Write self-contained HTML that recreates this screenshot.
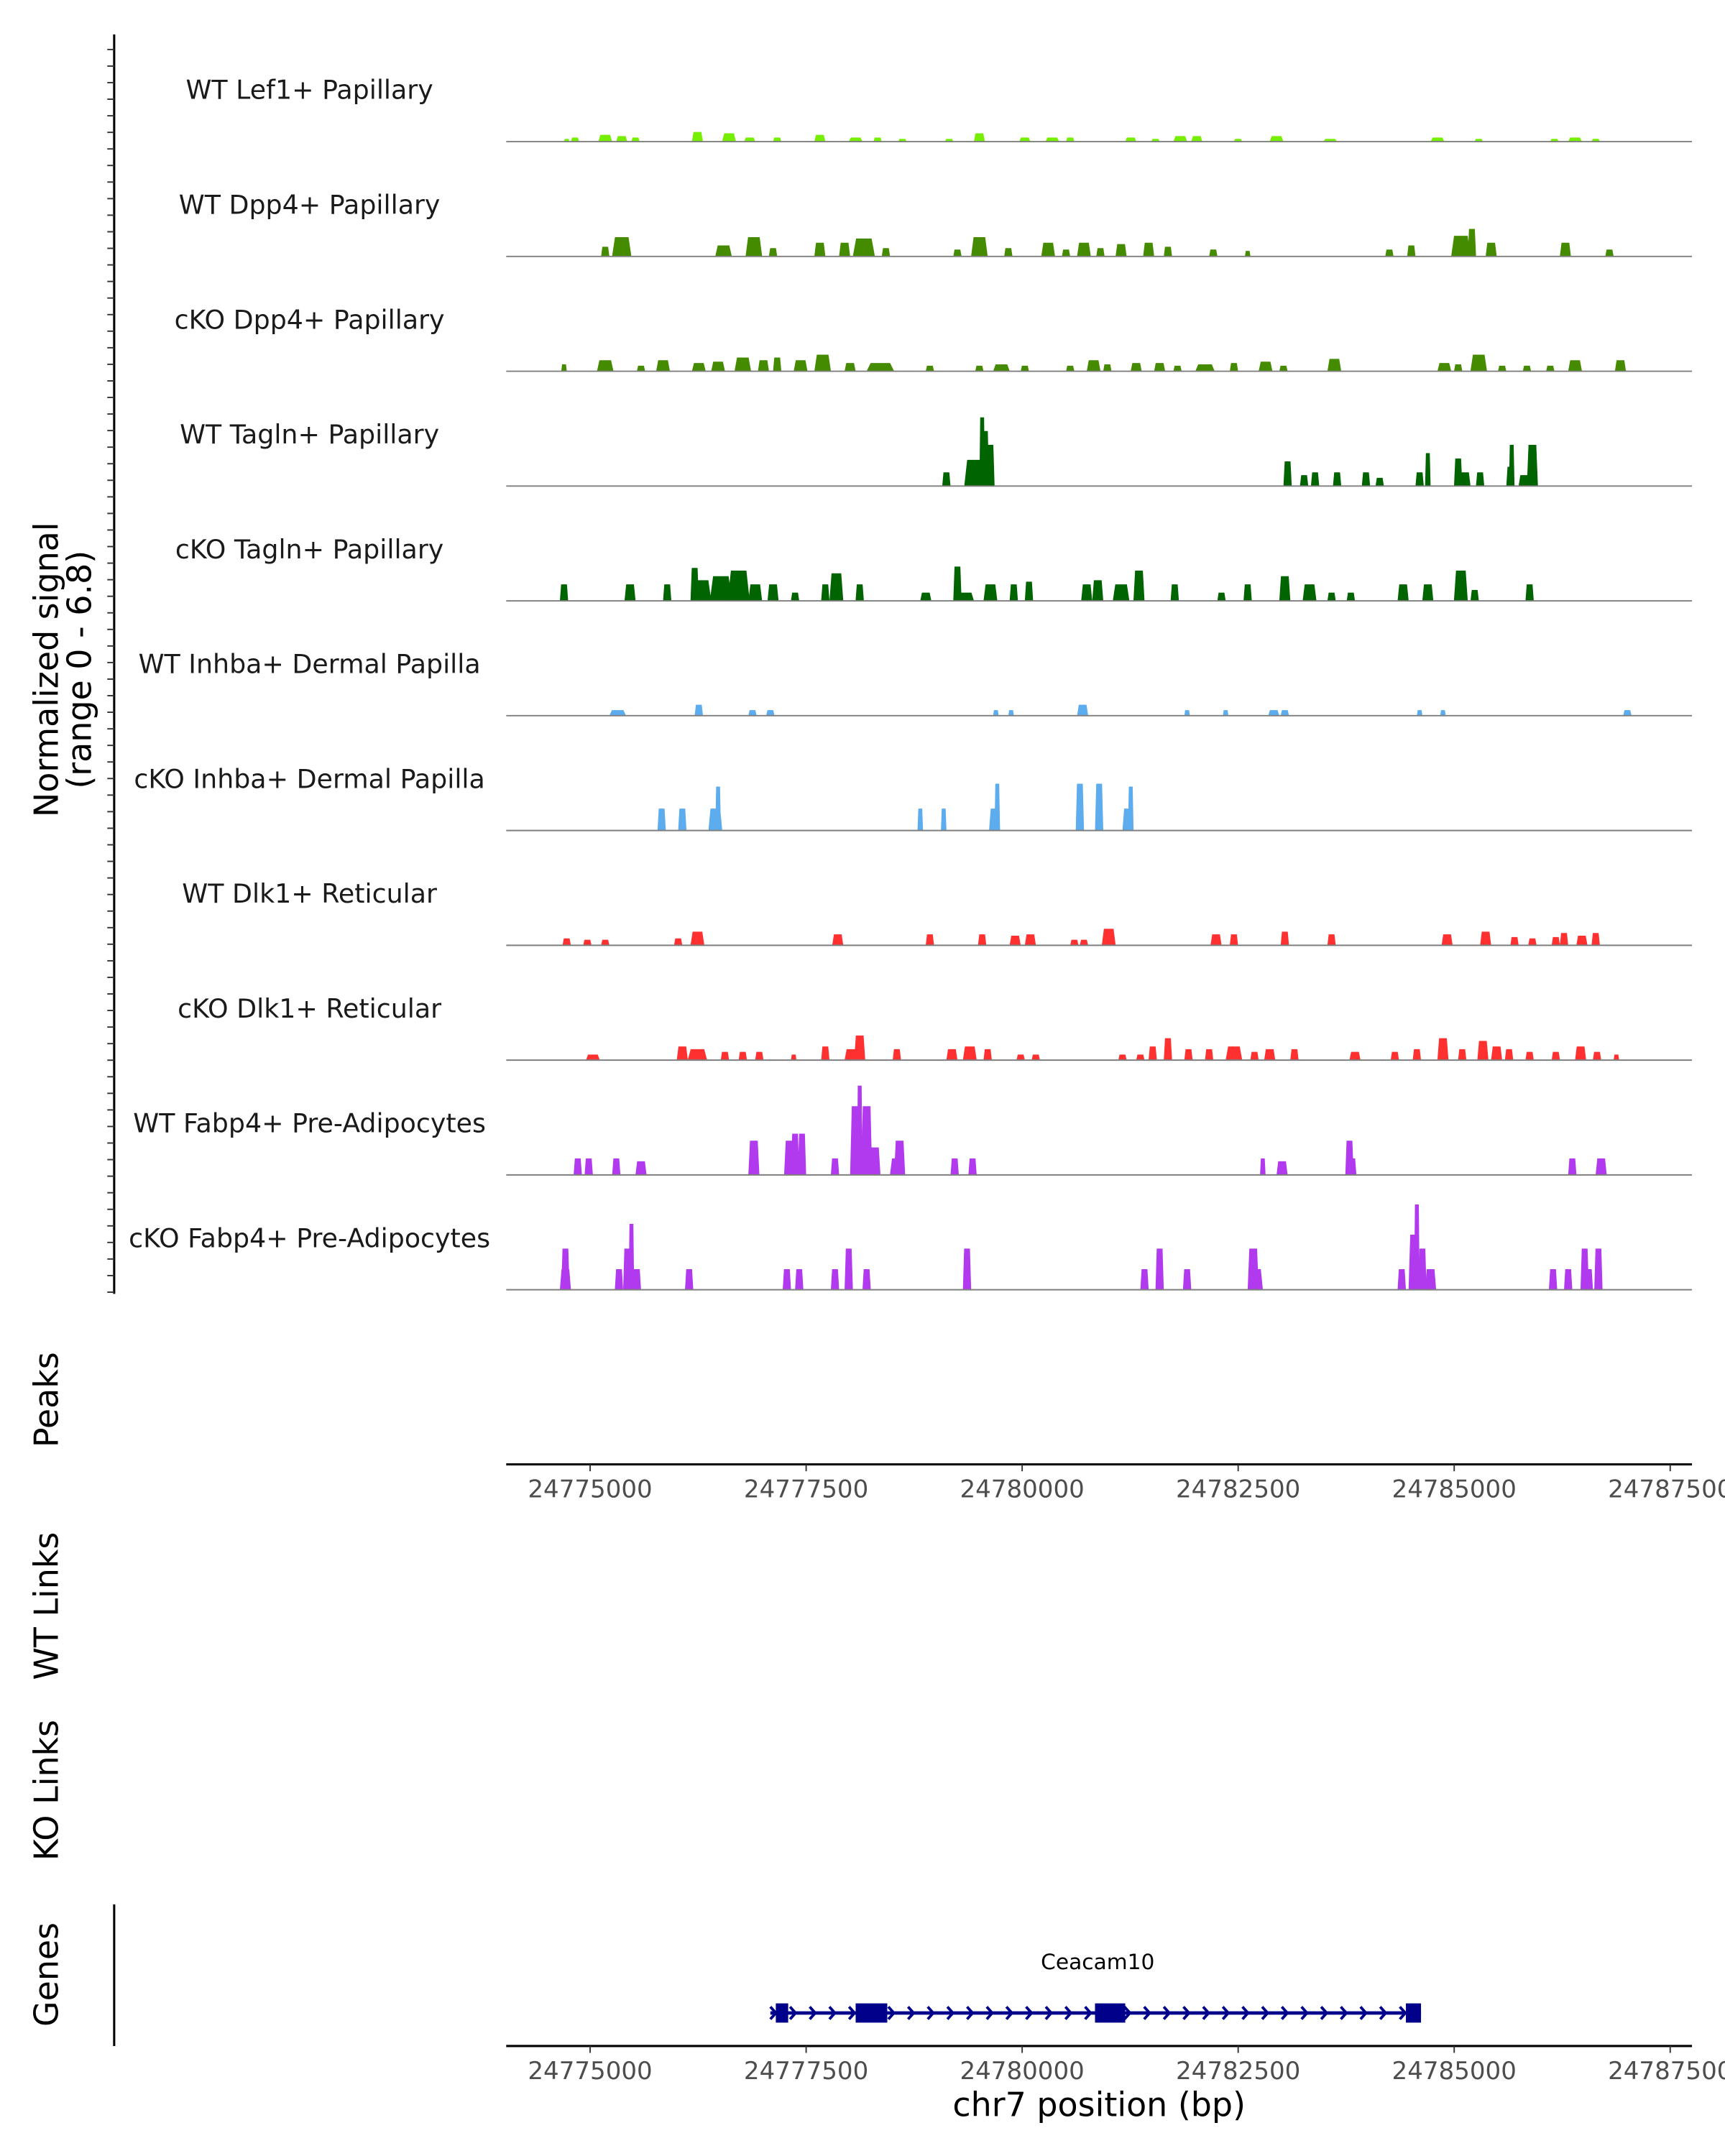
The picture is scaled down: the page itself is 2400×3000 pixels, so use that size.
<!DOCTYPE html>
<html><head><meta charset="utf-8"><style>
html,body{margin:0;padding:0;background:#fff}
svg{display:block}
text{font-family:"DejaVu Sans","Liberation Sans",sans-serif}
</style></head><body>
<svg id="chart" width="2400" height="3000" viewBox="0 0 1254 1568" preserveAspectRatio="none" xmlns="http://www.w3.org/2000/svg"></svg>
<script>
// ---------- data ----------
const trackNames = ["WT Lef1+ Papillary","WT Dpp4+ Papillary","cKO Dpp4+ Papillary","WT Tagln+ Papillary","cKO Tagln+ Papillary","WT Inhba+ Dermal Papilla","cKO Inhba+ Dermal Papilla","WT Dlk1+ Reticular","cKO Dlk1+ Reticular","WT Fabp4+ Pre-Adipocytes","cKO Fabp4+ Pre-Adipocytes"];
const trackColors = ["#76EE00","#458B00","#458B00","#006400","#006400","#5CACEE","#5CACEE","#FF3030","#FF3030","#B23AEE","#B23AEE"];
const xTicks = [24775000,24777500,24780000,24782500,24785000,24787500];
// peaks: [position bp, width bp, normalized signal]
const peaksLef1WT = [[24774729,64,.16],[24774825,96,.24],[24775175,160,.4],[24775366,128,.33],[24775525,96,.24],[24776242,128,.57],[24776608,160,.49],[24776847,128,.24],[24777165,96,.24],[24777659,128,.4],[24778073,160,.24],[24778327,96,.24],[24778614,96,.16],[24779155,96,.16],[24779505,128,.49],[24780031,128,.24],[24780349,160,.24],[24780556,96,.24],[24781257,128,.24],[24781543,96,.16],[24781830,160,.33],[24782021,128,.33],[24782498,96,.16],[24782944,160,.33],[24783565,160,.16],[24784807,160,.24],[24785284,96,.16],[24786160,96,.16],[24786399,160,.24],[24786638,96,.16]];
const peaksDpp4WT = [[24775175,96,.57],[24775366,224,1.14],[24776544,192,.65],[24776895,192,1.14],[24777117,96,.49],[24777659,128,.81],[24777945,128,.81],[24778168,256,1.06],[24778423,96,.49],[24779251,96,.41],[24779505,192,1.14],[24779840,96,.49],[24780301,160,.81],[24780508,96,.41],[24780715,160,.81],[24780906,96,.49],[24781145,128,.73],[24781464,128,.81],[24781687,96,.57],[24782212,96,.41],[24782610,64,.33],[24784250,96,.41],[24784504,96,.65],[24785077,224,1.22],[24785205,96,1.63],[24785428,128,.81],[24786287,128,.81],[24786797,96,.41]];
const peaksDpp4KO = [[24774698,64,.41],[24775175,192,.65],[24775589,96,.33],[24775844,160,.65],[24776258,160,.49],[24776481,160,.57],[24776767,192,.81],[24777006,128,.65],[24777165,96,.81],[24777436,160,.65],[24777691,192,.98],[24778009,128,.49],[24778359,320,.49],[24778932,96,.33],[24779505,96,.33],[24779760,192,.41],[24780031,96,.33],[24780556,96,.33],[24780827,160,.65],[24780986,96,.41],[24781320,128,.49],[24781591,128,.49],[24781798,96,.33],[24782116,224,.41],[24782451,96,.49],[24782817,160,.57],[24783024,96,.33],[24783613,160,.73],[24784886,160,.49],[24785046,96,.41],[24785284,192,.98],[24785555,96,.33],[24785842,96,.33],[24786112,96,.33],[24786399,160,.65],[24786924,128,.65]];
const peaksTaglnWT = [[24779123,96,.81],[24779442,224,1.55],[24779569,96,3.26],[24779537,64,4.07],[24779633,96,2.44],[24783072,96,1.46],[24783263,96,.65],[24783390,96,.81],[24783645,96,.81],[24783979,96,.81],[24784138,96,.49],[24784600,96,.81],[24784695,64,1.95],[24785046,96,1.63],[24785125,128,.81],[24785300,96,.81],[24785651,96,1.14],[24785666,64,2.44],[24785810,128,.65],[24785905,128,2.44]];
const peaksTaglnKO = [[24774698,96,.98],[24775462,128,.98],[24775892,96,.98],[24776210,96,1.95],[24776290,224,1.22],[24776513,256,1.46],[24776719,256,1.79],[24776911,160,.98],[24777117,128,.98],[24777372,96,.49],[24777722,96,.98],[24777850,160,1.63],[24778120,96,.98],[24778885,128,.49],[24779251,96,2.03],[24779346,192,.49],[24779633,160,.98],[24779903,96,.98],[24780079,96,1.14],[24780747,128,.98],[24780875,128,1.22],[24781145,192,.98],[24781352,128,1.79],[24781766,96,.98],[24782307,96,.49],[24782610,96,.98],[24783040,128,1.46],[24783326,160,.98],[24783581,96,.49],[24783804,96,.49],[24784409,128,.98],[24784695,128,.98],[24785077,160,1.79],[24785237,96,.65],[24785873,96,.98]];
const peaksInhbaWT = [[24775319,192,.33],[24776258,96,.65],[24776879,96,.33],[24777086,96,.33],[24779696,64,.33],[24779872,64,.33],[24780700,128,.65],[24781909,64,.33],[24782355,64,.33],[24782912,128,.33],[24783040,96,.33],[24784600,64,.33],[24784870,64,.33],[24787004,96,.33]];
const peaksInhbaKO = [[24775828,96,1.3],[24776067,96,1.3],[24776449,160,1.3],[24776481,64,2.6],[24778821,64,1.3],[24779092,64,1.3],[24779681,128,1.3],[24779712,64,2.77],[24780668,96,2.77],[24780891,96,2.77],[24781225,128,1.3],[24781257,64,2.6]];
const peaksDlk1WT = [[24774729,96,.41],[24774968,96,.33],[24775175,96,.33],[24776019,96,.41],[24776242,160,.81],[24777866,128,.65],[24778932,96,.65],[24779537,96,.65],[24779919,128,.57],[24780095,128,.65],[24780604,96,.33],[24780715,96,.33],[24781002,160,.98],[24782244,128,.65],[24782451,96,.65],[24783040,96,.81],[24783581,96,.65],[24784918,128,.65],[24785364,128,.81],[24785698,96,.49],[24785905,96,.41],[24786176,96,.49],[24786271,96,.73],[24786478,128,.57],[24786638,96,.73]];
const peaksDlk1KO = [[24775032,160,.33],[24776067,128,.81],[24776242,224,.65],[24776560,96,.49],[24776767,96,.49],[24776958,96,.49],[24777356,64,.33],[24777722,96,.81],[24778025,160,.65],[24778120,128,1.46],[24778550,96,.65],[24779187,128,.65],[24779394,160,.81],[24779601,96,.65],[24779983,96,.33],[24780158,96,.33],[24781161,96,.33],[24781368,96,.33],[24781511,96,.81],[24781687,96,1.3],[24781925,96,.65],[24782164,96,.65],[24782451,192,.81],[24782689,96,.49],[24782865,128,.65],[24783151,96,.65],[24783852,128,.49],[24784313,96,.49],[24784568,96,.65],[24784870,128,1.3],[24785093,96,.65],[24785332,128,1.14],[24785491,128,.81],[24785635,96,.65],[24785873,96,.49],[24786176,96,.49],[24786463,128,.81],[24786653,96,.49],[24786877,64,.33]];
const peaksFabp4WT = [[24774857,96,.98],[24774984,96,.98],[24775303,96,.98],[24775589,128,.81],[24776895,128,2.03],[24777309,128,2.03],[24777372,96,2.44],[24777452,96,2.44],[24777834,96,.98],[24778073,128,4.07],[24778120,64,5.29],[24778200,128,4.07],[24778296,128,1.63],[24778550,160,.98],[24778582,128,2.03],[24779219,96,.98],[24779426,96,.98],[24782785,64,.98],[24783008,128,.81],[24783788,96,2.03],[24783820,96,.98],[24786367,96,.98],[24786701,128,.98]];
const peaksFabp4KO = [[24774714,128,1.22],[24774714,96,2.44],[24775334,96,1.22],[24775430,96,2.44],[24775478,64,3.9],[24775541,96,1.22],[24776146,96,1.22],[24777277,96,1.22],[24777420,96,1.22],[24777834,96,1.22],[24777993,96,2.44],[24778200,96,1.22],[24779362,96,2.44],[24781416,96,1.22],[24781591,96,2.44],[24781909,96,1.22],[24782706,160,1.22],[24782674,128,2.44],[24784393,96,1.22],[24784536,128,3.26],[24784568,64,5.05],[24784632,96,2.44],[24784727,128,1.22],[24786144,96,1.22],[24786319,96,1.22],[24786510,96,2.44],[24786558,96,1.22],[24786669,96,2.44]];
const trackPeaks = [peaksLef1WT,peaksDpp4WT,peaksDpp4KO,peaksTaglnWT,peaksTaglnKO,peaksInhbaWT,peaksInhbaKO,peaksDlk1WT,peaksDlk1KO,peaksFabp4WT,peaksFabp4KO];
const geneName = "Ceacam10";
const geneSpan = [24777086,24784616];
const geneExons = [[24777149,24777292],[24778073,24778439],[24780843,24781193],[24784441,24784616]];

// ---------- scales ----------
const X0=368, X1=1230, D0=24774029, D1=24787752;
const xs = bp => X0 + (bp-D0)/(D1-D0)*(X1-X0);
const trackBase = i => 103 + i*83.5;
const ys = v => v*12.28;
const svg = document.getElementById('chart');
const NS = "http://www.w3.org/2000/svg";
function mk(tag, attrs, parent){const e=document.createElementNS(NS,tag);for(const k in attrs)e.setAttribute(k,attrs[k]);(parent||svg).appendChild(e);return e;}
function txt(s, attrs, parent){const e=mk('text',attrs,parent);e.textContent=s;return e;}

// left signal axis
const yAxis = mk('g',{});


mk('line',{x1:83,y1:25,x2:83,y2:941,stroke:'#000','stroke-width':1.6},yAxis);
for(let y=36;y<=941;y+=12.05){mk('line',{x1:78,y1:y,x2:83,y2:y,stroke:'#333','stroke-width':1},yAxis);}
const yt = txt('Normalized signal',{x:0,y:0,'font-size':24,'text-anchor':'middle',fill:'#000',transform:'translate(42,487) rotate(-90)'});


const yt2 = txt('(range 0 - 6.8)',{x:0,y:0,'font-size':24,'text-anchor':'middle',fill:'#000',transform:'translate(66,487) rotate(-90)'});



// tracks
trackPeaks.forEach((peaks,i)=>{
  const g = mk('g',{});
  
  
  const b = trackBase(i);
  const lab = txt(trackNames[i],{x:225,y:b-31,'font-size':19,'text-anchor':'middle',fill:'#1a1a1a'},g);
  
  
  peaks.forEach(p=>{
    const a=xs(p[0]-p[1]/2), c=xs(p[0]+p[1]/2), t=b-ys(p[2]), k=(c-a)*0.15;
    const poly = mk('polygon',{points:`${a},${b} ${a+k},${t} ${c-k},${t} ${c},${b}`,fill:trackColors[i]},g);
    
    
  });
  const bl = mk('line',{x1:X0,y1:b,x2:X1,y2:b,stroke:'#7f7f7f','stroke-width':1},g);
  
  
});

// side titles
[['Peaks',1018,'peaks-title'],['WT Links',1168,'wt-links-title'],['KO Links',1302,'ko-links-title'],['Genes',1436,'genes-title']].forEach(d=>{
  const t = txt(d[0],{x:0,y:0,'font-size':24,'text-anchor':'middle',fill:'#000',transform:`translate(42,${d[1]}) rotate(-90)`});
  
  
});

// x axes
function xAxis(y,name){
  const g=mk('g',{});
  
  
  mk('line',{x1:X0,y1:y,x2:X1,y2:y,stroke:'#000','stroke-width':1.6},g);
  xTicks.forEach(v=>{
    const x=xs(v);
    mk('line',{x1:x,y1:y,x2:x,y2:y+5,stroke:'#333','stroke-width':1},g);
    const t=txt(String(v),{x:x,y:y+24,'font-size':17.8,'text-anchor':'middle',fill:'#4d4d4d'},g);
    
    
  });
}
xAxis(1065,'peaks-x-axis');
xAxis(1488,'genes-x-axis');
const xt = txt('chr7 position (bp)',{x:799,y:1539,'font-size':24,'text-anchor':'middle',fill:'#000'});



// genes axis line
const ga = mk('line',{x1:83,y1:1385,x2:83,y2:1488,stroke:'#000','stroke-width':1.6});



// gene model
const gg = mk('g',{});


const gy=1464;
mk('line',{x1:xs(geneSpan[0]),y1:gy,x2:xs(geneSpan[1]),y2:gy,stroke:'#00008B','stroke-width':2.5},gg);
for(let x=xs(geneSpan[0])+2;x<xs(geneSpan[1]);x+=14.3){
  mk('polyline',{points:`${x-2},${gy-4.5} ${x+2},${gy} ${x-2},${gy+4.5}`,fill:'none',stroke:'#00008B','stroke-width':2},gg);
}
geneExons.forEach(e=>{
  const r=mk('rect',{x:xs(e[0]),y:gy-7,width:xs(e[1])-xs(e[0]),height:14,fill:'#00008B'},gg);
  
  
});
const gl = txt(geneName,{x:798,y:1432,'font-size':15.5,'text-anchor':'middle',fill:'#000'},gg);


</script>
</body></html>
